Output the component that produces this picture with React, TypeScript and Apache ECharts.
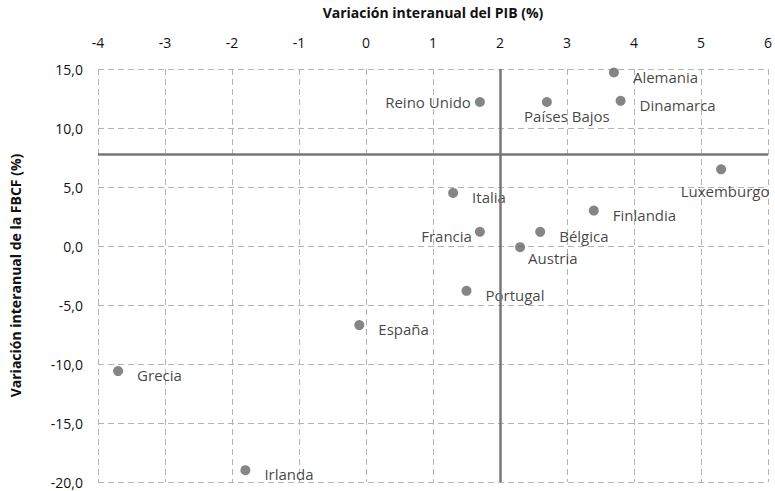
import React, { useEffect, useRef } from "react";
import * as echarts from "echarts";

const countries = ["Alemania", "Dinamarca", "Países Bajos", "Reino Unido", "Luxemburgo", "Italia", "Finlandia", "Francia", "Bélgica", "Austria", "Portugal", "España", "Grecia", "Irlanda"];
const pibGrowth = [3.7, 3.8, 2.7, 1.7, 5.3, 1.3, 3.4, 1.7, 2.6, 2.3, 1.5, -0.1, -3.7, -1.8];
const fbcfGrowth = [14.7, 12.3, 12.2, 12.2, 6.5, 4.5, 3.0, 1.2, 1.2, -0.1, -3.8, -6.7, -10.6, -19.0];
const crossX = 2;
const crossY = 7.8;
const xTitle = "Variación interanual del PIB (%)";
const yTitle = "Variación interanual de la FBCF (%)";

const labelPlacement: Record<string, any> = {
  "Reino Unido": { position: "left", distance: 4, offset: [0, 0] },
  Francia: { position: "left", distance: 3, offset: [0, 4] },
  "Países Bajos": { position: "bottom", distance: 1, offset: [20, 0] },
  Luxemburgo: { position: "bottom", distance: 9, offset: [4, 0] },
  Austria: { position: "right", distance: 3, offset: [0, 11] },
};

const FONT = "'Open Sans', sans-serif";
const TEXT = "#111111";

export default function App() {
  const ref = useRef<HTMLDivElement>(null);
  useEffect(() => {
    if (!ref.current) return;
    const chart = echarts.init(ref.current, null, { renderer: "svg" });
    const data = countries.map((c, i) => {
      const p = labelPlacement[c] || { position: "right", distance: 14, offset: [0, 4] };
      return {
        name: c,
        value: [pibGrowth[i], fbcfGrowth[i]],
        label: { show: true, color: TEXT, ...p },
      };
    });
    chart.setOption({
      animation: false,
      backgroundColor: "#ffffff",
      grid: { left: 98, right: 7, top: 69, bottom: 9, containLabel: false },
      xAxis: {
        type: "value",
        position: "top",
        min: -4,
        max: 6,
        interval: 1,
        name: xTitle,
        nameLocation: "middle",
        nameGap: 50,
        nameTextStyle: { fontFamily: FONT, fontWeight: "bold", fontSize: 14, color: TEXT },
        axisLine: { show: false },
        axisTick: { show: false },
        axisLabel: { fontFamily: FONT, fontSize: 14, fontWeight: 500, color: TEXT, margin: 20 },
        splitLine: { show: true, lineStyle: { color: "#b3b3b3", type: [6, 4], width: 1 } },
      },
      yAxis: {
        type: "value",
        min: -20,
        max: 15,
        interval: 5,
        name: yTitle,
        nameLocation: "middle",
        nameGap: 76,
        nameTextStyle: { fontFamily: FONT, fontWeight: "bold", fontSize: 14, color: TEXT },
        axisLine: { show: false },
        axisTick: { show: false },
        axisLabel: {
          fontFamily: FONT,
          fontSize: 14,
          fontWeight: 500,
          color: TEXT,
          margin: 15,
          formatter: (v: number) => v.toFixed(1).replace(".", ","),
        },
        splitLine: { show: true, lineStyle: { color: "#b3b3b3", type: [6, 4], width: 1 } },
      },
      series: [
        {
          type: "scatter",
          symbolSize: 10,
          itemStyle: { color: "#666666" },
          label: {
            show: true,
            formatter: "{b}",
            fontFamily: FONT,
            fontSize: 15,
            fontWeight: 500,
            color: TEXT,
          },
          data,
          markLine: {
            silent: true,
            symbol: "none",
            label: { show: false },
            lineStyle: { color: "#777777", width: 2.5, type: "solid" },
            data: [{ xAxis: crossX }, { yAxis: crossY }],
          },
          z: 3,
        },
      ],
    });
    return () => chart.dispose();
  }, []);
  return <div ref={ref} style={{ width: 775, height: 491, position: "absolute", left: 0, top: 0 }} />;
}
